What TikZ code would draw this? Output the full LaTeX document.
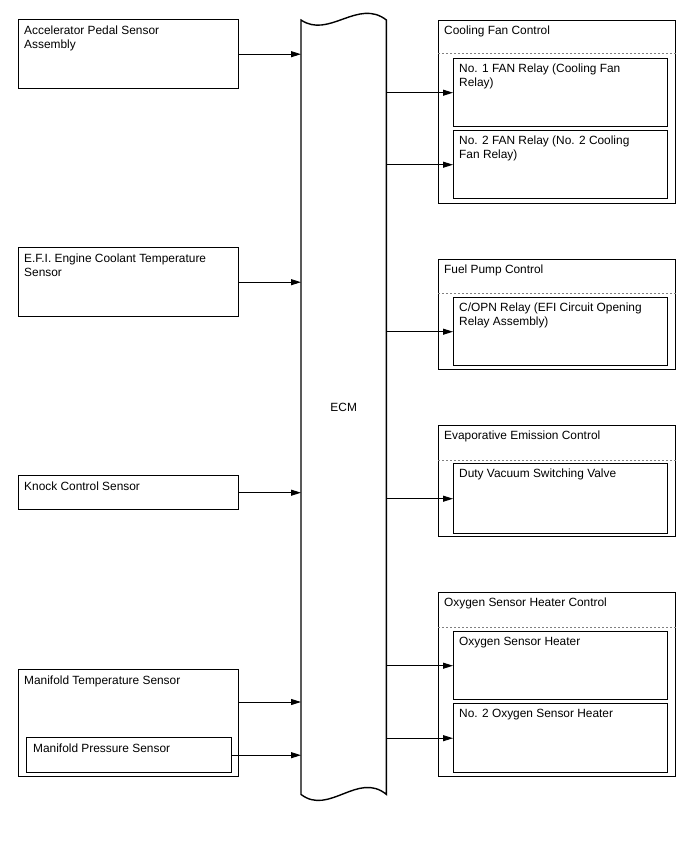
\documentclass[tikz,border=0pt]{standalone}
\usepackage{fontspec}
\setmainfont{Liberation Sans}
\usepackage{tikz}
\usetikzlibrary{arrows.meta, positioning, calc}
\newcommand{\boxfont}{\fontsize{11.9}{14.3}\selectfont}
\tikzset{
    unitbox/.style={draw, line width=1.4pt, anchor=north west, inner sep=0pt},
    boxtext/.style={anchor=north west, inner sep=0pt, align=left, font=\boxfont},
    sigarrow/.style={-{Triangle[length=10pt,width=6pt]}, line width=0.9pt},
    sepline/.style={gray, line width=0.9pt, dash pattern=on 2pt off 2pt},
}

\begin{document}
\begin{tikzpicture}[x=1pt, y=-1pt]
    \useasboundingbox (0,0) rectangle (688,852);

    % ECM
    \node[inner sep=0pt, minimum width=85, minimum height=774, anchor=north west, font=\boxfont] (ecm) at (301,20) {ECM};
    \draw[line width=1.4pt] (ecm.north west) .. controls (329,39) and (358,-2) .. (ecm.north east)
        -- (ecm.south east) .. controls (358,771) and (329,816) .. (ecm.south west) -- cycle;

    % inputs
    \node[unitbox, minimum width=220, minimum height=69] (acc) at (18,19) {};
    \node[boxtext] (acc-t) at ([xshift=6pt,yshift=-6.5pt]acc.north west) {Accelerator Pedal Sensor\\Assembly};

    \node[unitbox, minimum width=220, minimum height=69] (efi) at (18,247) {};
    \node[boxtext] (efi-t) at ([xshift=6pt,yshift=-6.5pt]efi.north west) {E.F.I. Engine Coolant Temperature\\Sensor};

    \node[unitbox, minimum width=220, minimum height=34] (knock) at (18,475) {};
    \node[boxtext] (knock-t) at ([xshift=6pt,yshift=-6.5pt]knock.north west) {Knock Control Sensor};

    \node[unitbox, minimum width=220, minimum height=107] (mt) at (18,669) {};
    \node[boxtext] (mt-t) at ([xshift=6pt,yshift=-6.5pt]mt.north west) {Manifold Temperature Sensor};
    \node[unitbox, minimum width=205, minimum height=35] (mp) at (26,737) {};
    \node[boxtext] (mp-t) at ([xshift=7pt,yshift=-6.5pt]mp.north west) {Manifold Pressure Sensor};

    % outputs
    \node[unitbox, minimum width=237, minimum height=183] (cf) at (438,20) {};
    \node[boxtext] (cf-t) at ([xshift=6pt,yshift=-6pt]cf.north west) {Cooling Fan Control};
    \draw[sepline] ([yshift=-33pt]cf.north west) -- ([yshift=-33pt]cf.north east);
    \node[unitbox, minimum width=214, minimum height=68] (fan1) at (453,58) {};
    \node[boxtext] (fan1-t) at ([xshift=6pt,yshift=-5.5pt]fan1.north west) {No. 1 FAN Relay (Cooling Fan\\Relay)};
    \node[unitbox, minimum width=214, minimum height=68] (fan2) at (453,130) {};
    \node[boxtext] (fan2-t) at ([xshift=6pt,yshift=-5.5pt]fan2.north west) {No. 2 FAN Relay (No. 2 Cooling\\Fan Relay)};

    \node[unitbox, minimum width=237, minimum height=110] (fp) at (438,259) {};
    \node[boxtext] (fp-t) at ([xshift=6pt,yshift=-6pt]fp.north west) {Fuel Pump Control};
    \draw[sepline] ([yshift=-34pt]fp.north west) -- ([yshift=-34pt]fp.north east);
    \node[unitbox, minimum width=214, minimum height=68] (opn) at (453,297) {};
    \node[boxtext] (opn-t) at ([xshift=6pt,yshift=-5.5pt]opn.north west) {C/OPN Relay (EFI Circuit Opening\\Relay Assembly)};

    \node[unitbox, minimum width=237, minimum height=111] (ev) at (438,425) {};
    \node[boxtext] (ev-t) at ([xshift=6pt,yshift=-6pt]ev.north west) {Evaporative Emission Control};
    \draw[sepline] ([yshift=-35pt]ev.north west) -- ([yshift=-35pt]ev.north east);
    \node[unitbox, minimum width=214, minimum height=70] (dvsv) at (453,463) {};
    \node[boxtext] (dvsv-t) at ([xshift=6pt,yshift=-5.5pt]dvsv.north west) {Duty Vacuum Switching Valve};

    \node[unitbox, minimum width=237, minimum height=184] (ox) at (438,592) {};
    \node[boxtext] (ox-t) at ([xshift=6pt,yshift=-6pt]ox.north west) {Oxygen Sensor Heater Control};
    \draw[sepline] ([yshift=-35pt]ox.north west) -- ([yshift=-35pt]ox.north east);
    \node[unitbox, minimum width=214, minimum height=68] (oxh1) at (453,631) {};
    \node[boxtext] (oxh1-t) at ([xshift=6pt,yshift=-5.5pt]oxh1.north west) {Oxygen Sensor Heater};
    \node[unitbox, minimum width=214, minimum height=69] (oxh2) at (453,703) {};
    \node[boxtext] (oxh2-t) at ([xshift=6pt,yshift=-5.5pt]oxh2.north west) {No. 2 Oxygen Sensor Heater};

    % signals in
    \draw[sigarrow] (acc.east) -- (acc.east -| ecm.west);
    \draw[sigarrow] (efi.east) -- (efi.east -| ecm.west);
    \draw[sigarrow] (knock.east) -- (knock.east -| ecm.west);
    \draw[sigarrow] ([yshift=-33pt]mt.north east) -- ([yshift=-33pt]mt.north east -| ecm.west);
    \draw[sigarrow] (mp.east) -- (mp.east -| ecm.west);

    % signals out
    \draw[sigarrow] (ecm.east |- fan1.west) -- (fan1.west);
    \draw[sigarrow] (ecm.east |- fan2.west) -- (fan2.west);
    \draw[sigarrow] (ecm.east |- opn.west) -- (opn.west);
    \draw[sigarrow] (ecm.east |- dvsv.west) -- (dvsv.west);
    \draw[sigarrow] (ecm.east |- oxh1.west) -- (oxh1.west);
    \draw[sigarrow] (ecm.east |- oxh2.west) -- (oxh2.west);
\end{tikzpicture}
\end{document}
